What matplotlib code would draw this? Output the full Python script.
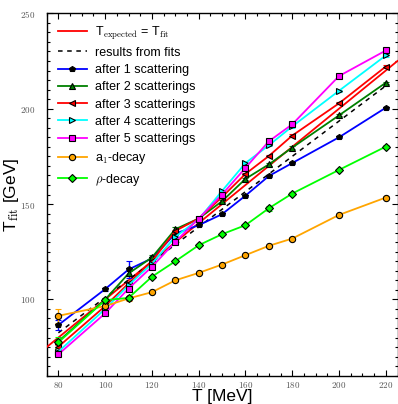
import matplotlib
matplotlib.use('Agg')
import matplotlib.pyplot as plt
from matplotlib.ticker import MultipleLocator, FuncFormatter

plt.rcParams['mathtext.fontset'] = 'cm'
plt.rcParams['font.family'] = ['Liberation Sans', 'DejaVu Sans']

# temperatures of the source [MeV]
T = [80, 100, 110, 120, 130, 140, 150, 160, 170, 180, 200, 220]

after_1 = [86.6, 105.4, 115.7, 121.5, 134.5, 138.9, 144.7, 154.4, 164.7, 171.5, 185.0, 200.5]
after_1_err = [2.5, 0.8, 4.4, 0.8, 0.8, 0.6, 0.6, 0.6, 0.6, 0.6, 0.6, 0.6]
after_2 = [78.0, 99.9, 113.6, 122.0, 136.8, 142.4, 151.5, 163.2, 170.8, 179.6, 196.5, 213.6]
after_2_err = [1.5, 0.8, 1.2, 1.5, 1.2, 0.6, 0.6, 0.6, 0.6, 0.6, 0.6, 0.6]
after_3 = [75.2, 96.5, 108.4, 120.0, 135.9, 142.4, 153.7, 165.8, 175.2, 185.9, 202.8, 222.1]
after_3_err = [0.8, 0.6, 0.8, 0.6, 0.6, 0.6, 0.6, 0.6, 0.6, 0.6, 0.6, 0.6]
after_4 = [72.6, 95.0, 107.5, 118.8, 132.8, 142.0, 156.9, 171.5, 180.8, 190.7, 209.4, 227.9]
after_4_err = [0.8, 0.6, 0.6, 0.6, 0.6, 0.6, 0.6, 0.8, 0.6, 0.6, 0.6, 0.6]
after_5 = [71.2, 92.7, 105.7, 117.1, 130.2, 142.4, 155.0, 169.0, 182.9, 191.8, 217.1, 230.5]
after_5_err = [0.8, 0.6, 0.6, 0.6, 0.6, 0.6, 0.6, 0.6, 0.6, 0.6, 0.6, 0.6]
a1_decay = [91.4, 96.5, 100.5, 103.8, 110.0, 113.9, 118.3, 123.2, 128.1, 131.9, 144.3, 153.4]
a1_decay_err = [3.8, 0.8, 1.2, 0.6, 0.6, 0.6, 0.6, 0.6, 0.6, 0.6, 0.6, 0.6]
rho_decay = [77.5, 99.6, 100.8, 111.9, 120.0, 128.4, 134.2, 138.9, 147.8, 155.5, 167.9, 180.1]
rho_decay_err = [3.0, 0.6, 0.6, 0.6, 0.6, 0.6, 0.6, 0.6, 1.3, 0.6, 0.6, 0.6]

# dashed "results from fits" line, end points
fit_T = [80, 220]
fit_values = [82.5, 212.0]

ideal_T = [75, 225]

series = [
    ('after 1 scattering', after_1, after_1_err, 'blue', 'p', 'black'),
    ('after 2 scatterings', after_2, after_2_err, '#008000', '^', '#008000'),
    ('after 3 scatterings', after_3, after_3_err, 'red', '<', 'red'),
    ('after 4 scatterings', after_4, after_4_err, 'cyan', '>', 'cyan'),
    ('after 5 scatterings', after_5, after_5_err, 'magenta', 's', 'magenta'),
    (r'a$_1$-decay', a1_decay, a1_decay_err, 'orange', 'o', 'orange'),
    (r'$\rho$-decay', rho_decay, rho_decay_err, 'lime', 'D', 'lime'),
]

fig = plt.figure(figsize=(3.98, 4.04), dpi=100)
ax = fig.add_axes([46.7 / 398, 1 - 375.7 / 404, (397.5 - 46.7) / 398, (375.7 - 13.3) / 404])

ideal_line, = ax.plot(ideal_T, ideal_T, color='red', lw=1.3,
                      label=r'T$_{\rm expected}$ = T$_{\rm fit}$', zorder=3)
fit_line, = ax.plot(fit_T, fit_values, color='black', lw=1.1, ls=(0, (3, 3)),
                    label='results from fits', zorder=3)

legend_handles = [ideal_line, fit_line]
for name, values, errors, color, marker, face in series:
    container = ax.errorbar(
        T,
        values,
        yerr=errors,
        color=color,
        lw=1.3,
        marker=marker,
        markersize=4.5 if marker != 'p' else 4,
        markerfacecolor=face,
        markeredgecolor='black',
        markeredgewidth=0.8,
        capsize=2,
        elinewidth=1.0,
        label=name,
        zorder=4
    )
    # legend shows only line + marker, no error bar
    legend_handles.append(container[0])

ax.set_xlim(75, 225)
ax.set_ylim(60, 250)

ax.xaxis.set_major_locator(MultipleLocator(20))
ax.xaxis.set_minor_locator(MultipleLocator(5))
ax.yaxis.set_major_locator(MultipleLocator(50))
ax.yaxis.set_minor_locator(MultipleLocator(5))

cm_format = FuncFormatter(lambda v, pos: r'$\mathrm{%d}$' % v)
ax.xaxis.set_major_formatter(cm_format)
ax.yaxis.set_major_formatter(cm_format)

ax.tick_params(which='both', direction='in', top=True, right=True,
               width=0.8, labelsize=6.5, labelcolor='#555555')
ax.tick_params(which='major', length=4)
ax.tick_params(which='minor', length=2)
ax.tick_params(axis='x', pad=3)
ax.tick_params(axis='y', pad=8)

for spine in ax.spines.values():
    spine.set_linewidth(1.0)

ax.set_xlabel('T [MeV]', fontsize=12.5)
ax.set_ylabel(r'T$_{\rm fit}$ [GeV]', fontsize=12.5)
ax.xaxis.set_label_coords(0.5, -0.036)
ax.yaxis.set_label_coords(-0.073, 0.5)

ax.legend(
    handles=legend_handles,
    labels=[h.get_label() for h in legend_handles[:2]] + [s[0] for s in series],
    loc='upper left',
    bbox_to_anchor=(0.0, 1.0),
    frameon=False,
    fontsize=9,
    numpoints=1,
    handlelength=2.3,
    handletextpad=0.7,
    labelspacing=0.42,
    borderaxespad=0.5
)

fig.savefig('out.png', dpi=100)
